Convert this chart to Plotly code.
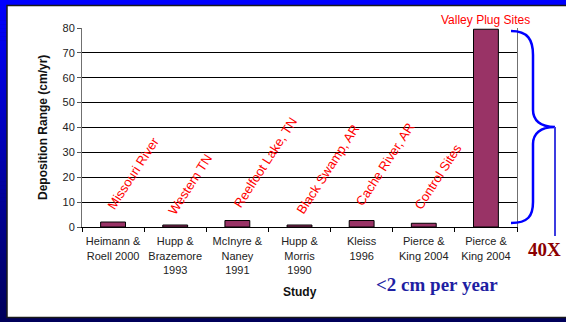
import plotly.graph_objects as go

# ---- data -------------------------------------------------------------
studies = [
    "Heimann &<br>Roell 2000",
    "Hupp &<br>Brazemore<br>1993",
    "McInyre &<br>Naney<br>1991",
    "Hupp &<br>Morris<br>1990",
    "Kleiss<br>1996",
    "Pierce &<br>King 2004",
    "Pierce &<br>King 2004",
]
deposition = [2.0, 0.8, 2.6, 0.8, 2.6, 1.5, 79.5]
site_labels = ["Missouri River", "Western TN", "Reelfoot Lake, TN",
               "Black Swamp, AR", "Cache River, AR", "Control Sites"]
y_ticks = [0, 10, 20, 30, 40, 50, 60, 70, 80]

# ---- page geometry (pixels) --------------------------------------------
W, H = 566, 322
ML, MR, MT, MB = 82, 49, 28, 95
PW, PH = W - ML - MR, H - MT - MB


def px(x):
    return (x - ML) / PW


def py(y):
    return (H - MB - y) / PH


SANS = "Liberation Sans, Arial, sans-serif"
SERIF = "Liberation Serif, Times New Roman, serif"

xs = list(range(len(studies)))

fig = go.Figure(go.Bar(
    x=xs, y=deposition, width=0.4,
    marker=dict(color="#993366", line=dict(color="#000000", width=1)),
    hoverinfo="skip",
))

shapes = []
# blue slide background, shaded from bright blue down to navy
bands = 80
for i in range(bands):
    t = i / (bands - 1)
    b = int(round(255 - (255 - 90) * t))
    y0 = H * i / bands
    y1 = H * (i + 1) / bands + 0.6
    shapes.append(dict(type="rect", xref="paper", yref="paper",
                       x0=px(-5), x1=px(W + 5), y0=py(y1), y1=py(y0),
                       fillcolor=f"rgb(0,0,{b})", line=dict(width=0),
                       layer="below"))
# white panel
shapes.append(dict(type="rect", xref="paper", yref="paper",
                   x0=px(7), x1=px(W + 10), y0=py(317.5), y1=py(5.5),
                   fillcolor="white", line=dict(color="#1a1a1a", width=1.5),
                   layer="below"))

# curly brace spanning the tall bar
brace = (
    f"M {px(511)},{py(31)} "
    f"C {px(528)},{py(31)} {px(533)},{py(40)} {px(533)},{py(55)} "
    f"L {px(533)},{py(110)} "
    f"C {px(533)},{py(120)} {px(540)},{py(127)} {px(555)},{py(127)} "
    f"C {px(540)},{py(127)} {px(533)},{py(134)} {px(533)},{py(144)} "
    f"L {px(533)},{py(202)} "
    f"C {px(533)},{py(216)} {px(528)},{py(223)} {px(511)},{py(223)}"
)
shapes.append(dict(type="path", xref="paper", yref="paper", path=brace,
                   line=dict(color="#0000ff", width=2.5)))
shapes.append(dict(type="line", xref="paper", yref="paper",
                   x0=px(555), x1=px(555), y0=py(127), y1=py(236),
                   line=dict(color="#3c3ce0", width=2)))

annotations = []
# rotated site names above the small bars
label_pos = [(20, 21.5), (15, 17), (28, 26), (28, 23.3), (23, 25.3), (14, 20.5)]
for i, (txt, (dx, yv)) in enumerate(zip(site_labels, label_pos)):
    annotations.append(dict(
        x=xs[i], y=yv, xref="x", yref="y", xshift=dx, text=txt,
        showarrow=False, textangle=-57, xanchor="center", yanchor="middle",
        font=dict(family=SANS, size=13, color="#ff0000")))
annotations.append(dict(
    x=xs[-1], y=80, xref="x", yref="y", text="Valley Plug Sites",
    showarrow=False, xanchor="center", yanchor="bottom", yshift=-1,
    font=dict(family=SANS, size=12, color="#ff0000")))
annotations.append(dict(
    x=px(43), y=py(128), xref="paper", yref="paper",
    text="<b>Deposition Range (cm/yr)</b>", textangle=-90, showarrow=False,
    xanchor="center", yanchor="middle",
    font=dict(family=SANS, size=12, color="#111111")))
annotations.append(dict(
    x=px(299.5), y=py(292), xref="paper", yref="paper", text="<b>Study</b>",
    showarrow=False, xanchor="center", yanchor="middle",
    font=dict(family=SANS, size=12, color="#111111")))
annotations.append(dict(
    x=px(437), y=py(284), xref="paper", yref="paper",
    text="<b>&lt;2 cm per year</b>", showarrow=False,
    xanchor="center", yanchor="middle",
    font=dict(family=SERIF, size=19, color="#1f1fa3")))
annotations.append(dict(
    x=px(544), y=py(249), xref="paper", yref="paper", text="<b>40X</b>",
    showarrow=False, xanchor="center", yanchor="middle",
    font=dict(family=SERIF, size=19, color="#8b0000")))

fig.update_layout(
    width=W, height=H,
    margin=dict(l=ML, r=MR, t=MT, b=MB, pad=0),
    paper_bgcolor="#000060", plot_bgcolor="rgba(0,0,0,0)",
    showlegend=False, bargap=0.6,
    shapes=shapes, annotations=annotations,
    xaxis=dict(
        range=[-0.5, 6.5], tickmode="array", tickvals=xs, ticktext=studies,
        ticks="", showgrid=False, zeroline=False,
        showline=True, linecolor="#000000", linewidth=1,
        tickfont=dict(family=SANS, size=11, color="#222222"),
        ticklabelstandoff=4,
        minor=dict(tickmode="array",
                   tickvals=[v - 0.5 for v in xs] + [xs[-1] + 0.5],
                   ticks="outside", ticklen=4, tickcolor="#000000",
                   tickwidth=1, showgrid=False),
    ),
    yaxis=dict(
        range=[0, 80], tickmode="array", tickvals=y_ticks,
        ticks="outside", ticklen=4, tickcolor="#555555",
        showgrid=True, gridcolor="#000000", gridwidth=1, zeroline=False,
        showline=True, linecolor="#707070", linewidth=1, mirror=True,
        tickfont=dict(family=SANS, size=11, color="#222222"),
    ),
)

fig.write_html("out.html")
